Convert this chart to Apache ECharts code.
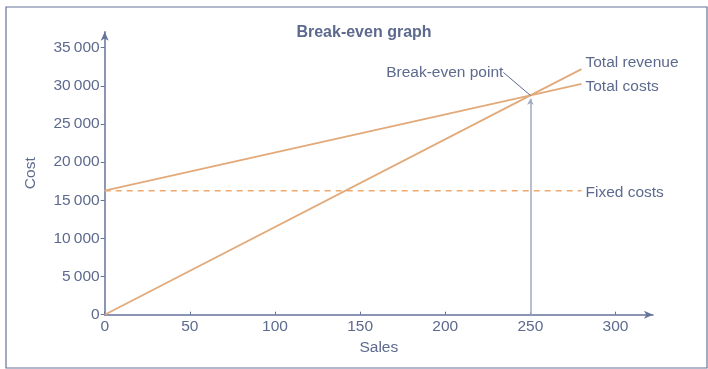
<!DOCTYPE html>
<html>
<head>
<meta charset="utf-8">
<script src="https://cdn.jsdelivr.net/npm/echarts@6/dist/echarts.min.js"></script>
<style>
  html, body { margin: 0; padding: 0; background: #fff; }
  #chart { width: 708px; height: 369px; }
</style>
</head>
<body>
<div id="chart"></div>
<script>
// Units sold along the x axis
const sales = [0, 250, 280];
// Revenue and costs at those sales levels
const totalRevenue = [0, 28750, 32200];
const totalCosts = [16250, 28750, 30250];
const fixedCosts = [16250, 16250, 16250];
// Break-even point (sales, cost)
const breakEven = [250, 28750];
// Tick marks
const xTicks = [0, 50, 100, 150, 200, 250, 300];
const yTicks = [0, 5000, 10000, 15000, 20000, 25000, 30000, 35000];

const AXIS = '#66739a';
const TEXT = '#5d6a8e';
const LINE = '#e2aa7a';
const FONT = '"Liberation Sans", Arial, sans-serif';
const FS = 15.5;

const pairs = (ys) => sales.map((x, i) => [x, ys[i]]);
const fmtThousands = (v) => {
  if (v < 1000) return String(v);
  const s = String(v);
  return s.slice(0, s.length - 3) + '\u2009' + s.slice(s.length - 3);
};
const endLabel = (text, dy) => ({
  show: true,
  distance: 4,
  offset: [0, dy],
  formatter: text,
  color: TEXT,
  fontFamily: FONT,
  fontSize: FS
});

const chart = echarts.init(document.getElementById('chart'));
chart.setOption({
  animation: false,
  backgroundColor: '#fff',
  title: {
    text: 'Break-even graph',
    left: 359,
    textAlign: 'center',
    top: 20,
    textStyle: { color: TEXT, fontFamily: FONT, fontSize: 16, fontWeight: 'bold' }
  },
  graphic: [{
    type: 'rect',
    shape: { x: 6, y: 7, width: 701, height: 361 },
    style: { fill: 'none', stroke: AXIS, lineWidth: 1.2 },
    silent: true
  }],
  grid: { left: 104.7, right: 55, top: 31.7, bottom: 54.3 },
  xAxis: {
    type: 'value',
    min: 0,
    max: 322,
    interval: 50,
    name: 'Sales',
    nameLocation: 'middle',
    nameGap: 25,
    nameTextStyle: { color: TEXT, fontFamily: FONT, fontSize: FS },
    splitLine: { show: false },
    axisLine: { show: true, lineStyle: { color: AXIS, width: 1.5 }, symbol: ['none', 'arrow'], symbolSize: [6, 9] },
    axisTick: { show: true, inside: true, length: 3, lineStyle: { color: AXIS } },
    axisLabel: {
      color: TEXT, fontFamily: FONT, fontSize: FS, margin: 4,
      showMaxLabel: false,
      formatter: (v) => xTicks.includes(v) ? String(v) : ''
    }
  },
  yAxis: {
    type: 'value',
    min: 0,
    max: 37100,
    interval: 5000,
    name: 'Cost',
    nameLocation: 'middle',
    nameGap: 66,
    nameRotate: 90,
    nameTextStyle: { color: TEXT, fontFamily: FONT, fontSize: FS },
    splitLine: { show: false },
    axisLine: { show: true, lineStyle: { color: AXIS, width: 1.5 }, symbol: ['none', 'arrow'], symbolSize: [6, 9] },
    axisTick: { show: true, length: 4, lineStyle: { color: AXIS } },
    axisLabel: {
      color: TEXT, fontFamily: FONT, fontSize: FS, margin: 5,
      showMaxLabel: false,
      formatter: (v) => yTicks.includes(v) ? fmtThousands(v) : ''
    }
  },
  series: [
    {
      name: 'Fixed costs',
      type: 'line',
      data: pairs(fixedCosts),
      symbol: 'none',
      lineStyle: { color: '#f0a86c', width: 1.3, type: [6, 5] },
      endLabel: endLabel('Fixed costs', 1.5),
      z: 2
    },
    {
      name: 'Total costs',
      type: 'line',
      data: pairs(totalCosts),
      symbol: 'none',
      lineStyle: { color: LINE, width: 1.8 },
      endLabel: endLabel('Total costs', 2.5),
      z: 3
    },
    {
      name: 'Total revenue',
      type: 'line',
      data: pairs(totalRevenue),
      symbol: 'none',
      lineStyle: { color: LINE, width: 1.8 },
      endLabel: endLabel('Total revenue', -6),
      z: 3,
      markLine: {
        silent: true,
        symbol: ['none', 'arrow'],
        symbolSize: [5, 6],
        label: { show: false },
        lineStyle: { color: '#a2aac1', width: 1.5, type: 'solid' },
        data: [[{ coord: [breakEven[0], 0] }, { coord: [breakEven[0], breakEven[1] - 450] }]]
      }
    },
    {
      name: 'Break-even point',
      type: 'scatter',
      data: [breakEven],
      symbolSize: 0.1,
      itemStyle: { color: TEXT, opacity: 1 },
      label: {
        show: true,
        position: 'left',
        distance: 2,
        formatter: 'Break-even point',
        color: TEXT,
        fontFamily: FONT,
        fontSize: FS
      },
      labelLayout: { dx: -25, dy: -23 },
      labelLine: { show: true, length2: 0, lineStyle: { color: TEXT, width: 1, opacity: 1 } },
      z: 5
    }
  ]
});
</script>
</body>
</html>
